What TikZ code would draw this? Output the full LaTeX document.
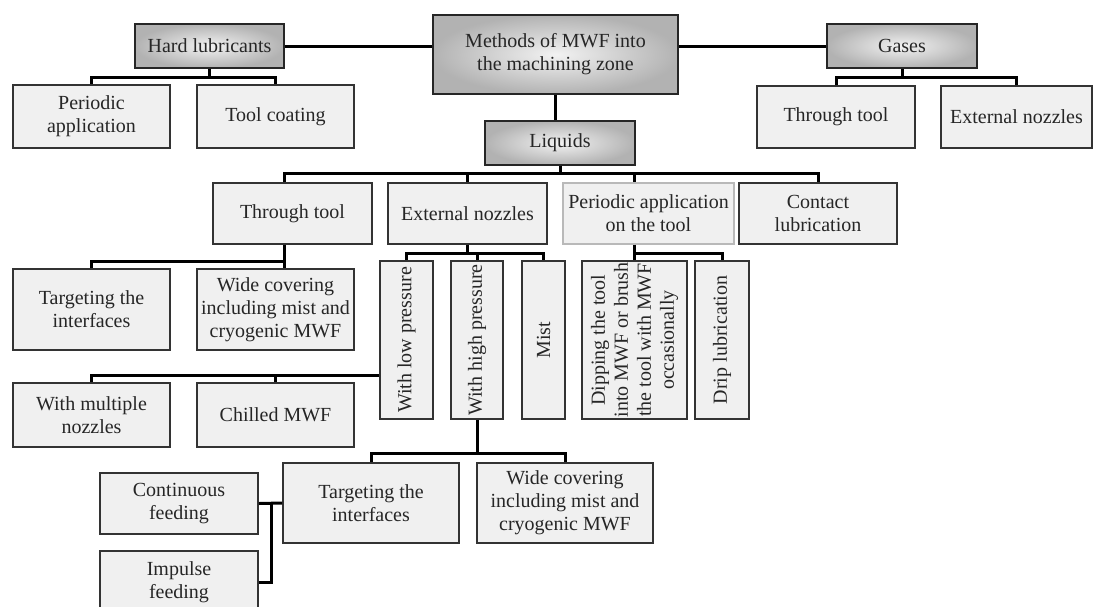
\documentclass[tikz,border=0pt]{standalone}
\usepackage{fontspec}
\setmainfont{Liberation Serif}
\usetikzlibrary{calc}
\newcommand{\boxfont}{\fontsize{20}{23}\selectfont}
\tikzset{
  mainbox/.style={draw=black!85, line width=1.6pt, inner color=gray!10, outer color=gray!60,
    align=center, font=\boxfont, text=black!85, inner sep=0pt},
  subbox/.style={draw=black!80, line width=1.6pt, fill=gray!12, align=center, font=\boxfont,
    text=black!85, inner sep=0pt},
  vbox/.style={subbox, rotate=90, minimum width=158pt},
  link/.style={line width=3pt, black}
}

\begin{document}
\begin{tikzpicture}[x=1pt, y=-1pt]
  \useasboundingbox (0,0) rectangle (1094,606);

  % Main categories
  \node[mainbox, minimum width=245pt, minimum height=79pt] (methods) at (555.5,54.5) {Methods of MWF into\\the machining zone};
  \node[mainbox, minimum width=149pt, minimum height=44pt] (hard) at (209.5,46) {Hard lubricants};
  \node[mainbox, minimum width=150pt, minimum height=44pt] (gases) at (902,46) {Gases};
  \node[mainbox, minimum width=150pt, minimum height=44pt] (liquids) at (560,143) {Liquids};

  % Hard lubricants and gases
  \node[subbox, minimum width=157pt, minimum height=63pt] (periodic) at (91.5,116.5) {Periodic\\application};
  \node[subbox, minimum width=157pt, minimum height=63pt] (coating) at (275.5,116.5) {Tool coating};
  \node[subbox, minimum width=158pt, minimum height=62pt] (gthrough) at (836,117) {Through tool};
  \node[subbox, minimum width=151pt, minimum height=62pt] (gnozzles) at (1016.5,117) {External nozzles};

  % Liquids
  \node[subbox, minimum width=159pt, minimum height=61pt] (lthrough) at (292.5,213.5) {Through tool};
  \node[subbox, minimum width=159pt, minimum height=61pt] (lnozzles) at (467.5,213.5) {External nozzles};
  \node[subbox, draw=gray!55, minimum width=171pt, minimum height=61pt] (lperiodic) at (648.5,213.5) {Periodic application\\on the tool};
  \node[subbox, minimum width=158pt, minimum height=61pt] (contact) at (818,213.5) {Contact\\lubrication};

  % Through tool
  \node[subbox, minimum width=157pt, minimum height=81pt] (ttarget) at (91.5,309.5) {Targeting the\\interfaces};
  \node[subbox, minimum width=157pt, minimum height=81pt] (twide) at (275.5,309.5) {Wide covering\\including mist and\\cryogenic MWF};

  % External nozzles and periodic application (upright boxes)
  \node[vbox, minimum height=53pt] (wlow) at (406.5,340) {With low pressure};
  \node[vbox, minimum height=52pt] (whigh) at (477,340) {With high pressure};
  \node[vbox, minimum height=43pt] (mist) at (543.5,340) {Mist};
  \node[vbox, minimum height=105pt] (dipping) at (634.5,340) {Dipping the tool\\into MWF or brush\\the tool with MWF\\occasionally};
  \node[vbox, minimum height=54pt] (drip) at (722,340) {Drip lubrication};

  % Low pressure
  \node[subbox, minimum width=157pt, minimum height=64pt] (multi) at (91.5,415) {With multiple\\nozzles};
  \node[subbox, minimum width=157pt, minimum height=64pt] (chilled) at (275.5,415) {Chilled MWF};

  % High pressure
  \node[subbox, minimum width=176pt, minimum height=80pt] (btarget) at (371,503) {Targeting the\\interfaces};
  \node[subbox, minimum width=176pt, minimum height=80pt] (bwide) at (565,503) {Wide covering\\including mist and\\cryogenic MWF};
  \node[subbox, minimum width=158pt, minimum height=61pt] (contfeed) at (179,503.5) {Continuous\\feeding};
  \node[subbox, minimum width=158pt, minimum height=62pt] (impfeed) at (179,582) {Impulse\\feeding};

  % Links from the root
  \draw[link] (hard.east) -- (hard.east -| methods.west);
  \draw[link] (methods.east |- gases.west) -- (gases.west);
  \draw[link] (methods.south) -- (methods.south |- liquids.north);

  \foreach \kid in {periodic, coating}
    \draw[link] (hard.south) -- ++(0,9) -| (\kid.north);
  \foreach \kid in {gthrough, gnozzles}
    \draw[link] (gases.south) -- ++(0,9) -| (\kid.north);

  % Links below liquids
  \foreach \kid in {lnozzles, contact}
    \draw[link] (liquids.south) -- ++(0,8) -| (\kid.north);
  \draw[link] (liquids.south) -- ++(0,8) -| ([xshift=-8.5pt]lthrough.north);
  \draw[link] (liquids.south) -- ++(0,8) -| (lperiodic.north -| dipping.east);

  \draw[link] ([xshift=-8.5pt]lthrough.south) -- ++(0,17) -| (ttarget.north);
  \draw[link] ([xshift=-8.5pt]lthrough.south) -- ([xshift=-8.5pt]lthrough.south |- twide.north);

  \foreach \kid in {wlow, whigh, mist}
    \draw[link] (lnozzles.south) -- ++(0,9) -| (\kid.east);
  \draw[link] (lperiodic.south -| dipping.east) -- (dipping.east);
  \draw[link] (lperiodic.south -| dipping.east) -- ++(0,9) -| (drip.east);

  \foreach \kid in {multi, chilled}
    \draw[link] ([yshift=-35pt]wlow.north) -| (\kid.north);

  \foreach \kid in {btarget, bwide}
    \draw[link] (whigh.west) -- ++(0,34) -| (\kid.north);

  % Feeding
  \draw[link] (btarget.west) -- (contfeed.east);
  \draw[link] ([xshift=-11pt]btarget.west) |- (impfeed.east);
\end{tikzpicture}
\end{document}
